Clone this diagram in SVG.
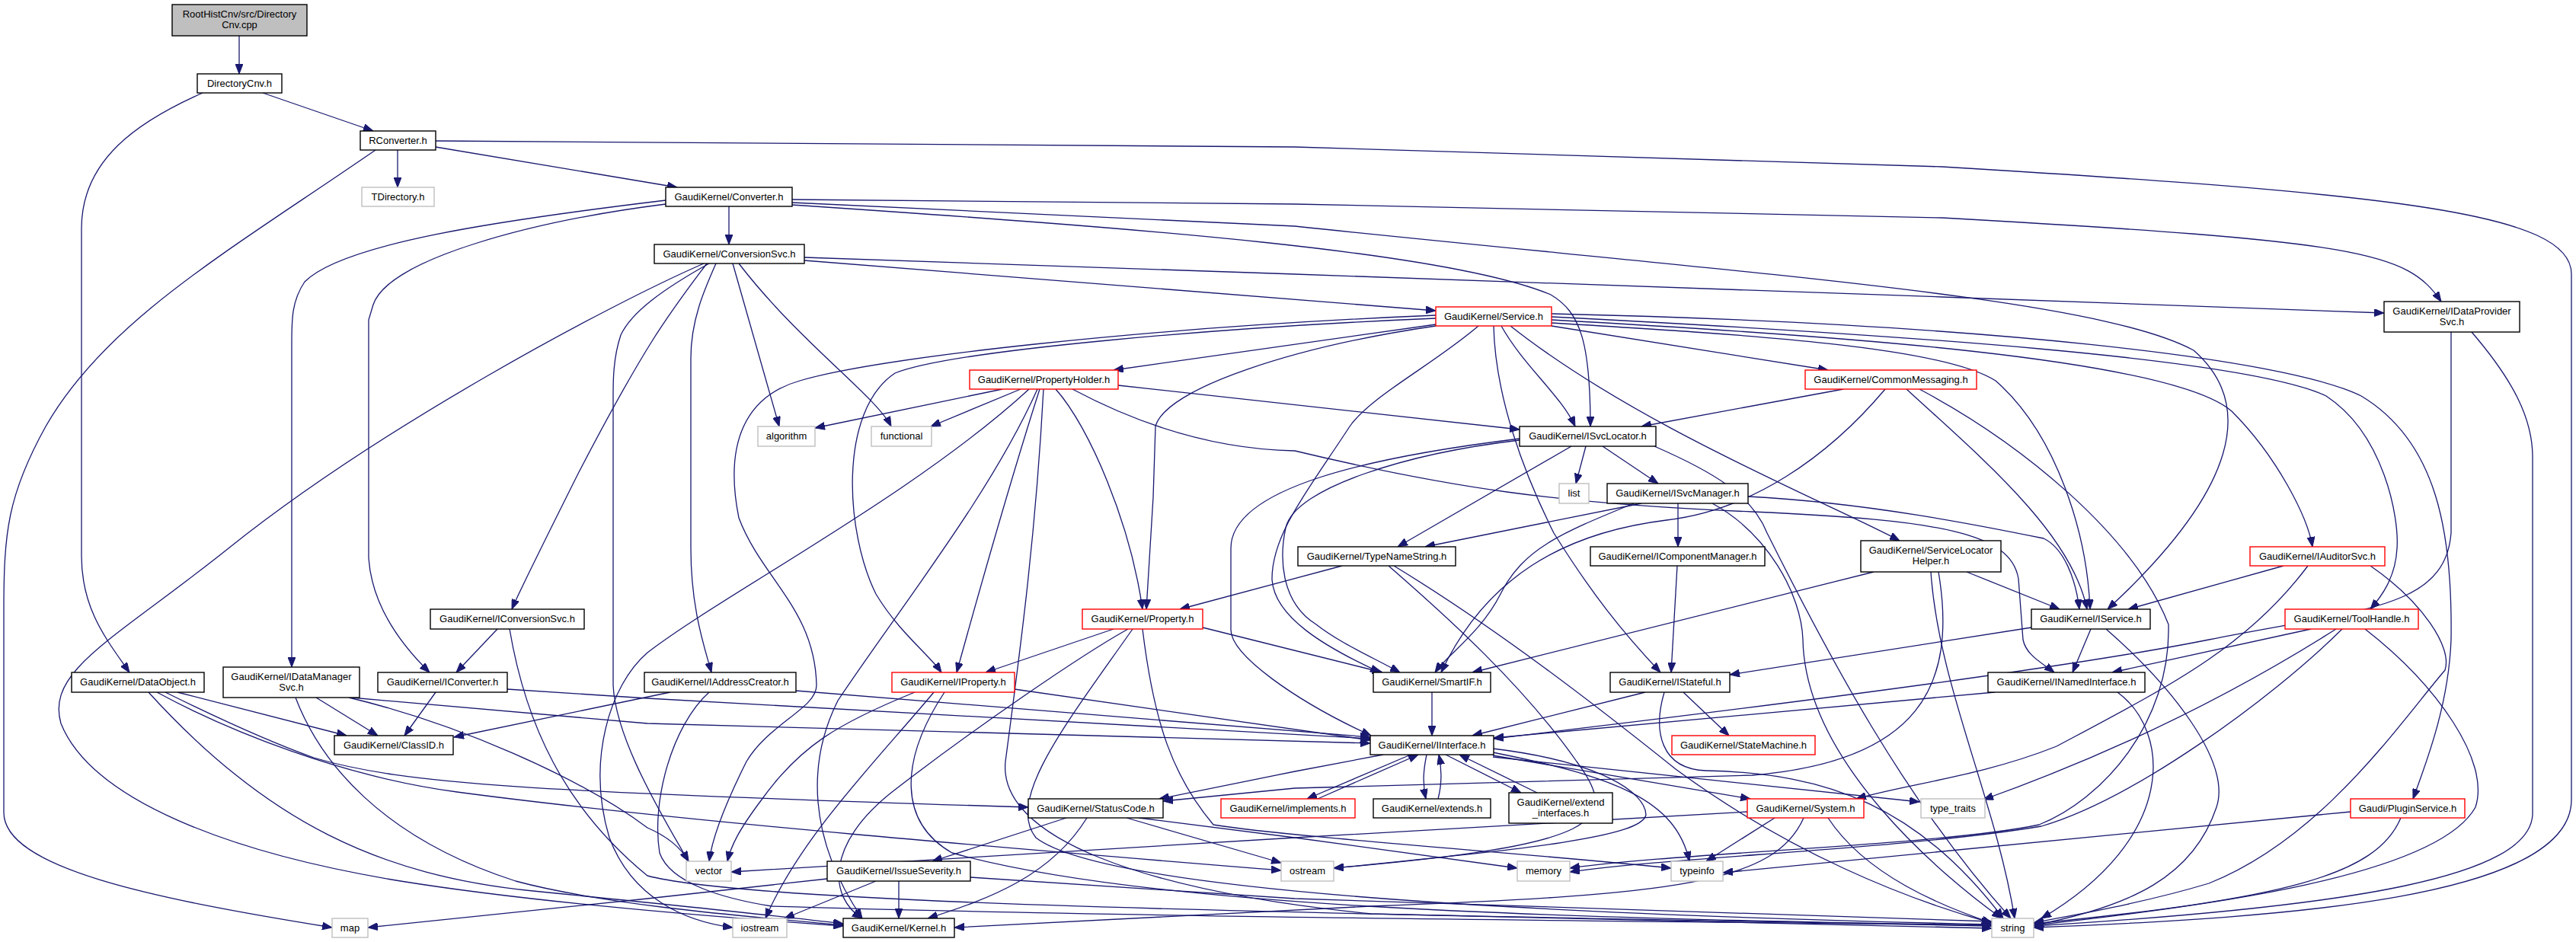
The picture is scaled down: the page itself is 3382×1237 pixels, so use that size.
<svg xmlns="http://www.w3.org/2000/svg" width="3382" height="1237" viewBox="0 0 3382 1237">
<style>
.n rect{fill:#fff;stroke:#000;stroke-width:1.4}
.r rect{stroke:#ff0000}
.g rect{stroke:#bfbfbf}
.f rect{fill:#bfbfbf}
text{font-family:"Liberation Sans",Arial,sans-serif;font-size:13px;text-anchor:middle;fill:#000}
#edges path{fill:none;stroke:#191970;stroke-width:1.3;marker-end:url(#a)}
</style>
<defs>
<marker id="a" markerUnits="userSpaceOnUse" markerWidth="13" markerHeight="10" refX="13" refY="5" orient="auto"><path d="M0,0L13,5L0,10z" fill="#191970" stroke="#191970" stroke-width="1"/></marker>
</defs>
<rect width="3382" height="1237" fill="#fff"/>
<g id="edges">
<path d="M314,47 L314,97"/>
<path d="M345,122 L490,172"/>
<path d="M266,122 C180,160 107,210 107,300 L107,730 C107,800 140,840 170,883"/>
<path d="M522,197 L522,246"/>
<path d="M572,193 L889,246"/>
<path d="M572,185 L1700,193 L2550,219 C3150,255 3376,280 3376,360 L3376,1050 C3376,1180 3000,1205 2670,1218"/>
<path d="M493,197 C300,330 140,420 60,560 C10,650 5,700 5,800 L5,1067 C5,1140 200,1180 436,1218"/>
<path d="M957,271 L957,321"/>
<path d="M1040,262 L1700,268 L2550,286 C3100,317 3160,330 3205,396"/>
<path d="M1040,266 L1700,297 C2300,360 2750,390 2880,460 C2960,530 2940,640 2767,800"/>
<path d="M1040,269 C1500,300 1900,330 2036,387 C2075,410 2088,450 2088,560"/>
<path d="M874,263 C650,290 450,320 400,370 C383,395 383,420 383,450 L383,876"/>
<path d="M874,268 C700,290 510,340 490,400 L484,420 L484,733 C488,790 520,840 564,883"/>
<path d="M1056,342 L1885,408"/>
<path d="M1056,338 L1700,360 L2550,390 L3130,411"/>
<path d="M928,346 C880,410 850,447 760,620 C710,720 680,780 672,800"/>
<path d="M924,346 C800,400 500,560 300,720 C150,840 60,880 80,950 C120,1050 300,1120 526,1157 C700,1185 950,1205 1107,1216"/>
<path d="M931,346 C870,380 829,410 815,440 C805,470 805,500 805,520 L805,900 C808,960 850,1040 904,1131"/>
<path d="M940,346 C925,380 907,420 907,470 L907,720 C907,800 925,850 934,883"/>
<path d="M962,346 L1023,560"/>
<path d="M970,346 C1050,450 1150,520 1170,560"/>
<path d="M1885,426 L1462,486"/>
<path d="M1971,428 C2000,480 2050,520 2068,560"/>
<path d="M2037,428 L2400,486"/>
<path d="M1983,428 C2150,560 2400,660 2494,710"/>
<path d="M2037,420 C2400,440 2850,470 2930,540 C2990,600 3030,680 3036,718"/>
<path d="M2037,416 C2500,440 2950,470 3054,520 C3130,570 3150,680 3147,720 C3145,760 3125,785 3112,800"/>
<path d="M2037,412 C2600,425 3000,470 3100,520 C3200,580 3220,700 3218,840 C3215,920 3190,990 3168,1049"/>
<path d="M2037,424 C2300,440 2550,455 2620,500 C2700,570 2740,700 2744,800"/>
<path d="M1885,428 C1700,455 1530,510 1517,560 L1514,653 L1505,800"/>
<path d="M1885,418 C1600,430 1250,460 1175,490 C1100,540 1110,700 1150,780 C1180,830 1220,860 1236,883"/>
<path d="M1885,414 C1500,430 1150,470 1050,500 C980,520 950,580 970,680 C1000,760 1070,800 1072,900 C1072,930 1010,950 980,1000 C955,1050 935,1100 931,1131"/>
<path d="M1941,428 C1880,480 1800,520 1772,560 C1720,640 1670,700 1670,760 C1672,810 1740,850 1812,883"/>
<path d="M1961,428 C1963,520 2000,620 2040,700 C2090,780 2130,830 2180,883"/>
<path d="M1316,511 L1070,562"/>
<path d="M1340,511 L1222,560"/>
<path d="M1468,506 L1995,564"/>
<path d="M1386,511 C1430,560 1484,687 1500,800"/>
<path d="M1365,511 C1330,620 1290,760 1256,883"/>
<path d="M1362,511 C1300,650 1180,800 1100,920 C1060,1000 1060,1100 1132,1206"/>
<path d="M1351,511 C1200,650 950,780 850,857 C800,900 770,1000 800,1100 C830,1180 900,1210 962,1218"/>
<path d="M1370,511 C1360,700 1340,850 1320,1000 C1310,1100 1500,1170 1800,1200 L2615,1219"/>
<path d="M1408,511 C1500,560 1600,590 1700,592 C1900,640 2047,662 2300,672 C2550,683 2640,700 2650,760 L2656,840 C2660,860 2680,870 2697,883"/>
<path d="M2420,511 L2155,560"/>
<path d="M2475,511 C2400,600 2300,670 2188,683 C2050,700 1950,760 1892,883"/>
<path d="M2503,511 C2600,600 2720,700 2740,800"/>
<path d="M2520,511 C2650,580 2800,700 2847,820 C2850,950 2760,1050 2677,1083 C2550,1110 2200,1120 2061,1140"/>
<path d="M2082,586 L2069,635"/>
<path d="M2104,586 L2177,635"/>
<path d="M2063,586 L1835,718"/>
<path d="M1995,576 C1800,600 1616,640 1616,720 L1616,827 C1616,860 1700,920 1800,966"/>
<path d="M1995,578 C1850,595 1700,640 1688,693 C1680,730 1680,790 1728,820 C1760,845 1800,862 1838,883"/>
<path d="M2172,586 C2250,620 2300,650 2320,700 C2400,860 2500,1050 2640,1206"/>
<path d="M2155,661 L1871,718"/>
<path d="M2203,661 L2203,718"/>
<path d="M2295,652 C2450,660 2600,690 2683,707 C2710,720 2725,760 2730,800"/>
<path d="M2145,661 C2050,700 2000,720 1970,780 C1945,830 1900,860 1884,883"/>
<path d="M2248,661 C2320,700 2365,780 2367,840 C2370,1000 2550,1150 2628,1206"/>
<path d="M1762,743 L1549,800"/>
<path d="M1830,743 C1968,827 2100,930 2200,1010 C2350,1120 2500,1180 2615,1212"/>
<path d="M1823,743 C1900,810 2000,900 2070,1000 C2130,1080 2100,1110 1751,1140"/>
<path d="M2202,743 L2194,883"/>
<path d="M2582,751 L2704,800"/>
<path d="M2460,751 L1933,883"/>
<path d="M2535,751 C2545,900 2620,1050 2645,1206"/>
<path d="M2545,751 C2570,900 2520,1000 2300,1018 L1700,1035 L1527,1052"/>
<path d="M2998,743 L2794,800"/>
<path d="M3030,743 C2950,850 2850,900 2700,980 C2600,1020 2500,1030 2437,1049"/>
<path d="M3112,743 C3180,790 3220,850 3210,880 C3150,950 3050,1100 2900,1160 C2800,1190 2700,1205 2670,1212"/>
<path d="M2667,824 L2271,886"/>
<path d="M2745,826 L2721,883"/>
<path d="M2765,826 C2850,900 2930,1000 2910,1060 C2880,1150 2800,1190 2670,1215"/>
<path d="M3034,826 L2773,883"/>
<path d="M3067,826 C2950,900 2800,980 2604,1050"/>
<path d="M3075,826 C2980,920 2800,1050 2680,1085 C2500,1115 2200,1125 2061,1145"/>
<path d="M3105,826 C3200,900 3270,1000 3250,1060 C3200,1150 2900,1190 2670,1215"/>
<path d="M3152,1074 C3120,1150 3000,1180 2670,1213"/>
<path d="M3086,1066 L2262,1146"/>
<path d="M3218,436 L3218,700 C3210,800 3100,800 2900,840 C2700,880 2300,930 1961,970"/>
<path d="M3245,436 C3300,500 3325,550 3325,600 L3325,1070 C3320,1150 3100,1190 2670,1216"/>
<path d="M653,826 L599,883"/>
<path d="M669,826 C690,950 740,1060 850,1150 C1000,1190 1800,1200 2615,1216"/>
<path d="M233,909 L455,966"/>
<path d="M217,909 C300,950 370,980 412,995 C530,1030 700,1040 1350,1060"/>
<path d="M206,909 C300,960 450,1020 600,1040 C900,1080 1400,1120 1682,1143"/>
<path d="M195,909 C350,1080 500,1150 700,1170 C900,1190 1000,1200 1107,1213"/>
<path d="M415,916 L496,966"/>
<path d="M461,916 L850,950 L1799,976"/>
<path d="M388,916 C420,1000 500,1100 677,1157 C800,1190 1000,1205 1107,1215"/>
<path d="M458,916 C600,950 760,1020 850,1087 C880,1100 895,1115 904,1131"/>
<path d="M572,909 L531,966"/>
<path d="M666,905 L850,917 L1799,970"/>
<path d="M880,909 L596,968"/>
<path d="M1045,907 L1799,968"/>
<path d="M931,909 C882,953 855,1053 866,1120 C880,1160 950,1180 1013,1190 C1500,1205 2200,1210 2615,1215"/>
<path d="M1201,909 C1100,950 1050,980 1000,1050 C970,1090 960,1110 955,1131"/>
<path d="M1226,909 C1150,1000 1050,1100 1005,1206"/>
<path d="M1240,909 C1180,1000 1180,1080 1250,1120 C1500,1190 2000,1205 2615,1215"/>
<path d="M1332,905 L1799,972"/>
<path d="M1462,826 L1294,883"/>
<path d="M1481,826 C1420,860 1284,953 1175,1037 C1080,1110 1090,1180 1132,1206"/>
<path d="M1487,826 C1400,950 1320,1050 1360,1100 C1450,1170 2000,1200 2615,1214"/>
<path d="M1500,826 C1515,950 1540,1020 1593,1083 C1700,1100 2000,1120 2194,1140"/>
<path d="M1579,824 L1815,883"/>
<path d="M1400,1074 L1224,1131"/>
<path d="M1427,1074 C1380,1150 1300,1180 1218,1206"/>
<path d="M1479,1074 L1682,1133"/>
<path d="M1495,1074 L1700,1100 L1992,1140"/>
<path d="M1180,1157 L1180,1206"/>
<path d="M1150,1157 L1030,1206"/>
<path d="M1086,1154 L850,1180 L483,1218"/>
<path d="M1274,1152 L1700,1180 L2615,1210"/>
<path d="M1816,991 L1700,1013 L1522,1049"/>
<path d="M1852,991 L1716,1049"/>
<path d="M1730,1049 L1862,991"/>
<path d="M1873,991 C1868,1015 1868,1030 1872,1049"/>
<path d="M1888,1049 C1893,1030 1893,1010 1889,991"/>
<path d="M1898,991 L1997,1041"/>
<path d="M2018,1041 L1916,991"/>
<path d="M1960,983 C2100,1000 2160,1040 2161,1070 C2155,1100 2000,1115 1751,1140"/>
<path d="M1960,988 C2120,1020 2200,1050 2218,1131"/>
<path d="M1960,992 L2298,1049"/>
<path d="M1960,994 L2520,1053"/>
<path d="M2160,909 L1933,966"/>
<path d="M2210,909 L2270,966"/>
<path d="M2185,909 C2170,960 2180,1010 2240,1012 C2400,1015 2520,1060 2630,1206"/>
<path d="M1880,909 L1880,966"/>
<path d="M2619,909 L1961,969"/>
<path d="M2780,909 C2850,960 2860,1100 2680,1206"/>
<path d="M2330,1074 L2240,1131"/>
<path d="M2400,1074 C2450,1150 2550,1190 2615,1212"/>
<path d="M2368,1074 C2330,1160 2200,1175 1800,1190 L1253,1218"/>
<path d="M2294,1066 L1700,1100 L960,1145"/>
</g>
<g id="n_cpp" class="n f"><rect x="226" y="6" width="177" height="41"/><text x="314.5" y="23">RootHistCnv/src/Directory</text><text x="314.5" y="37">Cnv.cpp</text></g>
<g id="n_dcnvh" class="n"><rect x="259" y="97" width="111" height="25"/><text x="314.5" y="114">DirectoryCnv.h</text></g>
<g id="n_rconv" class="n"><rect x="473" y="172" width="99" height="25"/><text x="522.5" y="189">RConverter.h</text></g>
<g id="n_tdir" class="n g"><rect x="475" y="246" width="95" height="25"/><text x="522.5" y="263">TDirectory.h</text></g>
<g id="n_conv" class="n"><rect x="874" y="246" width="166" height="25"/><text x="957" y="263">GaudiKernel/Converter.h</text></g>
<g id="n_convsvc" class="n"><rect x="859" y="321" width="197" height="25"/><text x="957.5" y="338">GaudiKernel/ConversionSvc.h</text></g>
<g id="n_service" class="n r"><rect x="1885" y="403" width="152" height="25"/><text x="1961" y="420">GaudiKernel/Service.h</text></g>
<g id="n_idps" class="n"><rect x="3130" y="396" width="178" height="40"/><text x="3219" y="413">GaudiKernel/IDataProvider</text><text x="3219" y="427">Svc.h</text></g>
<g id="n_propholder" class="n r"><rect x="1273" y="486" width="195" height="25"/><text x="1370.5" y="503">GaudiKernel/PropertyHolder.h</text></g>
<g id="n_algorithm" class="n g"><rect x="995" y="560" width="75" height="26"/><text x="1032.5" y="577">algorithm</text></g>
<g id="n_functional" class="n g"><rect x="1144" y="560" width="79" height="26"/><text x="1183.5" y="577">functional</text></g>
<g id="n_isvcloc" class="n"><rect x="1995" y="560" width="179" height="26"/><text x="2084.5" y="577">GaudiKernel/ISvcLocator.h</text></g>
<g id="n_commsg" class="n r"><rect x="2370" y="486" width="225" height="25"/><text x="2482.5" y="503">GaudiKernel/CommonMessaging.h</text></g>
<g id="n_list" class="n g"><rect x="2047" y="635" width="39" height="26"/><text x="2066.5" y="652">list</text></g>
<g id="n_isvcmgr" class="n"><rect x="2110" y="635" width="185" height="26"/><text x="2202.5" y="652">GaudiKernel/ISvcManager.h</text></g>
<g id="n_typename" class="n"><rect x="1704" y="718" width="207" height="25"/><text x="1807.5" y="735">GaudiKernel/TypeNameString.h</text></g>
<g id="n_icompmgr" class="n"><rect x="2088" y="718" width="229" height="25"/><text x="2202.5" y="735">GaudiKernel/IComponentManager.h</text></g>
<g id="n_slh" class="n"><rect x="2443" y="710" width="184" height="41"/><text x="2535" y="727">GaudiKernel/ServiceLocator</text><text x="2535" y="741">Helper.h</text></g>
<g id="n_iauditor" class="n r"><rect x="2954" y="718" width="177" height="25"/><text x="3042.5" y="735">GaudiKernel/IAuditorSvc.h</text></g>
<g id="n_iconvsvc" class="n"><rect x="565" y="800" width="202" height="26"/><text x="666" y="817">GaudiKernel/IConversionSvc.h</text></g>
<g id="n_property" class="n r"><rect x="1421" y="800" width="158" height="26"/><text x="1500" y="817">GaudiKernel/Property.h</text></g>
<g id="n_iservice" class="n"><rect x="2667" y="800" width="156" height="26"/><text x="2745" y="817">GaudiKernel/IService.h</text></g>
<g id="n_toolhandle" class="n r"><rect x="3000" y="800" width="175" height="26"/><text x="3087.5" y="817">GaudiKernel/ToolHandle.h</text></g>
<g id="n_dataobj" class="n"><rect x="94" y="883" width="174" height="26"/><text x="181" y="900">GaudiKernel/DataObject.h</text></g>
<g id="n_idms" class="n"><rect x="293" y="876" width="179" height="40"/><text x="382.5" y="893">GaudiKernel/IDataManager</text><text x="382.5" y="907">Svc.h</text></g>
<g id="n_iconverter" class="n"><rect x="496" y="883" width="170" height="26"/><text x="581" y="900">GaudiKernel/IConverter.h</text></g>
<g id="n_iaddr" class="n"><rect x="846" y="883" width="199" height="26"/><text x="945.5" y="900">GaudiKernel/IAddressCreator.h</text></g>
<g id="n_iproperty" class="n r"><rect x="1171" y="883" width="161" height="26"/><text x="1251.5" y="900">GaudiKernel/IProperty.h</text></g>
<g id="n_smartif" class="n"><rect x="1803" y="883" width="154" height="26"/><text x="1880" y="900">GaudiKernel/SmartIF.h</text></g>
<g id="n_istateful" class="n"><rect x="2114" y="883" width="157" height="26"/><text x="2192.5" y="900">GaudiKernel/IStateful.h</text></g>
<g id="n_inamed" class="n"><rect x="2610" y="883" width="206" height="26"/><text x="2713" y="900">GaudiKernel/INamedInterface.h</text></g>
<g id="n_classid" class="n"><rect x="439" y="966" width="156" height="25"/><text x="517" y="983">GaudiKernel/ClassID.h</text></g>
<g id="n_iinterface" class="n"><rect x="1799" y="966" width="162" height="25"/><text x="1880" y="983">GaudiKernel/IInterface.h</text></g>
<g id="n_statemachine" class="n r"><rect x="2195" y="966" width="188" height="25"/><text x="2289" y="983">GaudiKernel/StateMachine.h</text></g>
<g id="n_statuscode" class="n"><rect x="1350" y="1049" width="177" height="25"/><text x="1438.5" y="1066">GaudiKernel/StatusCode.h</text></g>
<g id="n_implements" class="n r"><rect x="1603" y="1049" width="176" height="25"/><text x="1691" y="1066">GaudiKernel/implements.h</text></g>
<g id="n_extends" class="n"><rect x="1803" y="1049" width="154" height="25"/><text x="1880" y="1066">GaudiKernel/extends.h</text></g>
<g id="n_extif" class="n"><rect x="1981" y="1041" width="136" height="40"/><text x="2049" y="1058">GaudiKernel/extend</text><text x="2049" y="1072">_interfaces.h</text></g>
<g id="n_system" class="n r"><rect x="2294" y="1049" width="153" height="25"/><text x="2370.5" y="1066">GaudiKernel/System.h</text></g>
<g id="n_typetraits" class="n g"><rect x="2522" y="1049" width="84" height="25"/><text x="2564" y="1066">type_traits</text></g>
<g id="n_plugin" class="n r"><rect x="3086" y="1049" width="150" height="25"/><text x="3161" y="1066">Gaudi/PluginService.h</text></g>
<g id="n_vector" class="n g"><rect x="901" y="1131" width="59" height="26"/><text x="930.5" y="1148">vector</text></g>
<g id="n_issue" class="n"><rect x="1086" y="1131" width="188" height="26"/><text x="1180" y="1148">GaudiKernel/IssueSeverity.h</text></g>
<g id="n_ostream" class="n g"><rect x="1682" y="1131" width="69" height="26"/><text x="1716.5" y="1148">ostream</text></g>
<g id="n_memory" class="n g"><rect x="1992" y="1131" width="69" height="26"/><text x="2026.5" y="1148">memory</text></g>
<g id="n_typeinfo" class="n g"><rect x="2194" y="1131" width="68" height="26"/><text x="2228" y="1148">typeinfo</text></g>
<g id="n_map" class="n g"><rect x="436" y="1206" width="47" height="25"/><text x="459.5" y="1223">map</text></g>
<g id="n_iostream" class="n g"><rect x="962" y="1206" width="71" height="25"/><text x="997.5" y="1223">iostream</text></g>
<g id="n_kernel" class="n"><rect x="1107" y="1206" width="146" height="25"/><text x="1180" y="1223">GaudiKernel/Kernel.h</text></g>
<g id="n_string" class="n g"><rect x="2615" y="1206" width="55" height="25"/><text x="2642.5" y="1223">string</text></g>
</svg>
